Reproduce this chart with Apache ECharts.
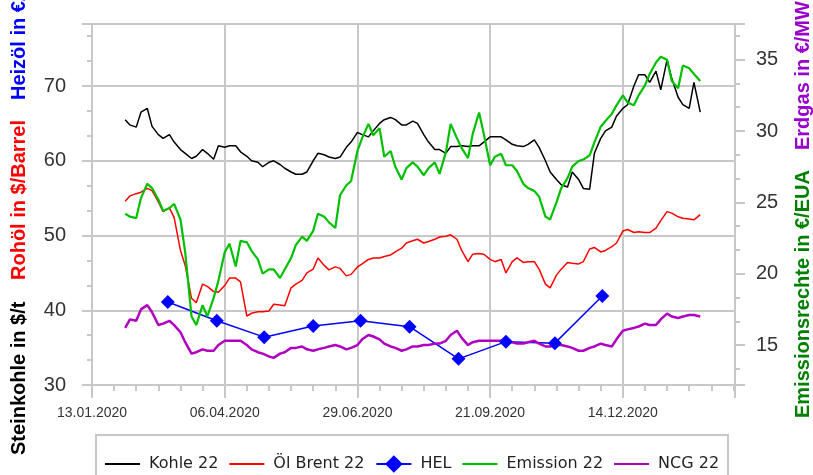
<!DOCTYPE html>
<html><head><meta charset="utf-8">
<script src="https://cdn.jsdelivr.net/npm/echarts@6/dist/echarts.min.js"></script>
<style>html,body{margin:0;padding:0;background:#fff}#c{width:813px;height:475px}</style>
</head><body><div id="c"></div>
<script>
const dates = [
'03.02.2020','06.02.2020','10.02.2020','13.02.2020','17.02.2020','20.02.2020','24.02.2020','27.02.2020',
'02.03.2020','05.03.2020','09.03.2020','12.03.2020','16.03.2020','19.03.2020','23.03.2020','26.03.2020',
'30.03.2020','02.04.2020','06.04.2020','09.04.2020','13.04.2020','16.04.2020','20.04.2020','23.04.2020',
'27.04.2020','30.04.2020','04.05.2020','07.05.2020','11.05.2020','14.05.2020','18.05.2020','21.05.2020',
'25.05.2020','28.05.2020','01.06.2020','04.06.2020','08.06.2020','11.06.2020','15.06.2020','18.06.2020',
'22.06.2020','25.06.2020','29.06.2020','02.07.2020','06.07.2020','09.07.2020','13.07.2020','16.07.2020',
'20.07.2020','23.07.2020','27.07.2020','30.07.2020','03.08.2020','06.08.2020','10.08.2020','13.08.2020',
'17.08.2020','20.08.2020','24.08.2020','27.08.2020','31.08.2020','03.09.2020','07.09.2020','10.09.2020',
'14.09.2020','17.09.2020','21.09.2020','24.09.2020','28.09.2020','01.10.2020','05.10.2020','08.10.2020',
'12.10.2020','15.10.2020','19.10.2020','22.10.2020','26.10.2020','29.10.2020','02.11.2020','05.11.2020',
'09.11.2020','12.11.2020','16.11.2020','19.11.2020','23.11.2020','26.11.2020','30.11.2020','03.12.2020',
'07.12.2020','10.12.2020','14.12.2020','17.12.2020','21.12.2020','24.12.2020','28.12.2020','31.12.2020',
'04.01.2021','07.01.2021','11.01.2021','14.01.2021','18.01.2021','21.01.2021','25.01.2021','28.01.2021',
'01.02.2021'];
const kohle = [
65.5,64.8,64.5,66.5,67.0,64.6,63.5,63.0, 63.5,62.5,61.5,61.0,60.3,60.6,61.5,61.0,
60.2,62.0,61.8,62.0,62.0,61.2,60.6,60.0, 59.8,59.2,59.8,60.0,59.5,59.0,58.5,58.2,
58.2,58.5,60.0,61.0,60.8,60.5,60.3,60.5, 61.8,62.5,63.8,63.5,63.2,64.0,65.0,65.5,
65.8,65.5,64.8,64.8,65.3,65.0,63.5,62.5, 61.5,61.5,61.0,61.9,61.9,62.0,61.9,62.0,
62.0,62.5,63.2,63.2,63.2,62.8,62.2,62.0, 61.9,62.2,62.8,61.8,60.0,58.5,57.5,56.8,
56.5,58.5,57.5,56.3,56.2,61.0,63.0,64.0, 64.5,66.0,67.0,67.5,70.0,71.5,71.5,70.5,
72.0,69.5,73.5,71.0,68.5,67.5,67.0,70.5, 66.5];
const brent = [
54.6,55.3,55.6,55.8,56.3,56.0,54.5,53.2, 53.7,52.4,48.0,46.0,41.6,41.0,43.5,43.2,
42.5,42.4,43.3,44.3,44.3,43.8,39.2,39.6, 39.8,39.8,39.9,40.8,40.7,40.6,43.0,43.5,
44.0,45.0,45.5,47.0,46.0,45.4,45.8,45.6, 44.6,44.8,45.8,46.2,46.8,47.0,47.0,47.2,
47.4,47.8,48.3,49.0,49.3,49.5,49.0,49.2, 49.5,49.8,49.9,50.1,49.5,48.0,46.5,47.5,
47.6,47.5,46.8,46.5,46.8,45.0,46.5,47.0, 46.4,46.5,46.5,45.5,43.5,43.0,44.7,45.5,
46.4,46.3,46.2,46.5,48.2,48.4,47.8,48.0, 48.5,49.0,50.6,50.8,50.4,50.5,50.4,50.4,
51.0,52.0,53.2,53.0,52.5,52.3,52.2,52.1, 52.8];
const emission = [
24.2,24.0,23.9,25.3,26.3,26.0,25.2,24.4, 24.6,24.9,23.8,21.5,17.0,16.4,17.8,17.0,
18.3,19.5,21.5,22.1,20.5,22.3,22.2,21.6, 21.0,20.0,20.3,20.3,19.7,20.3,21.1,22.0,
22.6,22.3,23.0,24.2,24.0,23.6,23.2,25.5, 26.2,26.5,28.6,29.5,30.5,29.7,30.2,28.2,
28.6,27.5,26.6,27.4,27.8,27.5,26.9,27.4, 27.8,27.0,28.5,30.5,29.5,28.8,28.1,29.8,
31.3,29.8,27.6,28.2,28.4,27.6,27.6,27.2, 26.3,26.0,25.8,25.4,24.0,23.8,25.0,26.0,
26.7,27.5,27.9,28.0,28.3,29.2,30.3,30.7, 31.2,31.8,32.5,32.0,31.8,32.5,33.2,34.0,
34.8,35.2,35.0,33.5,33.0,34.6,34.4,34.0, 33.5];
const ncg = [
16.2,16.8,16.7,17.5,17.8,17.3,16.4,16.5, 16.7,16.4,15.9,15.2,14.4,14.5,14.7,14.6,
14.6,15.0,15.3,15.3,15.3,15.3,15.0,14.7, 14.5,14.4,14.2,14.1,14.4,14.5,14.8,14.8,
14.9,14.7,14.6,14.7,14.8,14.9,15.0,14.9, 14.7,14.8,15.0,15.4,15.7,15.6,15.4,15.1,
14.9,14.8,14.6,14.7,14.9,14.9,15.0,15.0, 15.1,15.1,15.3,15.7,16.0,15.5,15.0,15.2,
15.3,15.3,15.3,15.3,15.3,15.2,15.2,15.1, 15.1,15.2,15.3,15.1,14.9,14.9,15.0,15.0,
14.9,14.8,14.6,14.6,14.8,14.9,15.1,15.0, 14.9,15.4,16.0,16.1,16.2,16.3,16.5,16.4,
16.4,16.8,17.2,17.0,16.9,17.0,17.1,17.1, 17.0];
const helDates = ['01.03.2020','01.04.2020','01.05.2020','01.06.2020','01.07.2020','01.08.2020','01.09.2020','01.10.2020','01.11.2020','01.12.2020'];
const hel = [41.1,38.6,36.4,37.9,38.6,37.8,33.5,35.8,35.6,41.9];
const xTickLabels = ['13.01.2020','06.04.2020','29.06.2020','21.09.2020','14.12.2020'];
const leftTicks = [30,40,50,60,70];
const rightTicks = [15,20,25,30,35];

const BASE = Date.UTC(2020,0,13);
function dayOf(s){const p=s.split('.');return Math.round((Date.UTC(+p[2],+p[1]-1,+p[0])-BASE)/86400000);}
function fmt(d){const t=new Date(BASE+d*86400000);return String(t.getUTCDate()).padStart(2,'0')+'.'+String(t.getUTCMonth()+1).padStart(2,'0')+'.'+t.getUTCFullYear();}
const xTickDays = xTickLabels.map(dayOf);

const GREY = '#c8c8c8';
const FONT = 'Liberation Sans';
const LINE_ICON = 'path://M0,0L0.01,0L0.01,0.01ZM0,10L35,10L35,12L0,12ZM35,22L34.99,22L34.99,21.99Z';
const chart = echarts.init(document.getElementById('c'), null, {renderer:'canvas'});
const axisCommon = {
  axisLine:{show:true,lineStyle:{color:GREY,width:2}},
  axisTick:{show:true,length:10,lineStyle:{color:GREY,width:2}},
  minorTick:{show:true,splitNumber:3,length:5,lineStyle:{color:GREY,width:2}}
};
const nameFont = 'bold 20px "Liberation Sans"';
chart.setOption({
  animation:false,
  backgroundColor:'#fff',
  grid:{left:92,right:78,top:24,bottom:90,show:true,borderColor:GREY,borderWidth:2,containLabel:false},
  xAxis:Object.assign({},axisCommon,{
    type:'value',min:0,max:407,interval:84,
    axisTick:{show:true,length:13,lineStyle:{color:GREY,width:2}},
    minorTick:{show:true,splitNumber:6,length:6,lineStyle:{color:GREY,width:2}},
    splitLine:{show:true,lineStyle:{color:GREY,width:2}},
    axisLabel:{margin:21,fontSize:14,color:'#333',fontFamily:FONT,
      formatter:v=>xTickDays.indexOf(Math.round(v))>=0?fmt(Math.round(v)):''}
  }),
  yAxis:[
    Object.assign({},axisCommon,{type:'value',position:'left',min:30,max:78.3,interval:10,
      splitLine:{show:true,lineStyle:{color:GREY,width:2}},
      axisLabel:{margin:26,fontSize:20,color:'#333',fontFamily:FONT,
        formatter:v=>leftTicks.indexOf(Math.round(v*10)/10)>=0?String(v):''}}),
    Object.assign({},axisCommon,{type:'value',position:'right',min:12.2,max:37.5,splitNumber:5,
      splitLine:{show:false},
      axisLabel:{margin:21,fontSize:20,color:'#333',fontFamily:FONT,
        formatter:v=>rightTicks.indexOf(Math.round(v*10)/10)>=0?String(v):''}})
  ],
  legend:{left:100,top:448,itemWidth:35,itemHeight:22,itemGap:11,
    textStyle:{fontSize:16,color:'#222',fontFamily:'DejaVu Sans',padding:[0,0,0,4]},
    data:[
      {name:'Kohle 22',icon:LINE_ICON},
      {name:'Öl Brent 22',icon:LINE_ICON},
      {name:'HEL'},
      {name:'Emission 22',icon:LINE_ICON},
      {name:'NCG 22',icon:LINE_ICON}
    ]},
  graphic:[
    {type:'rect',shape:{x:96,y:435,width:632,height:60},style:{fill:'none',stroke:GREY,lineWidth:2},silent:true},
    {type:'text',x:19,y:455,rotation:Math.PI/2,style:{text:'Steinkohle in $/t',fill:'#000',font:nameFont,textAlign:'left',textVerticalAlign:'middle'}},
    {type:'text',x:19,y:280,rotation:Math.PI/2,style:{text:'Rohöl in $/Barrel',fill:'#ff0000',font:nameFont,textAlign:'left',textVerticalAlign:'middle'}},
    {type:'text',x:19,y:100,rotation:Math.PI/2,style:{text:'Heizöl in €/hl',fill:'#0000ff',font:nameFont,textAlign:'left',textVerticalAlign:'middle'}},
    {type:'text',x:803,y:418,rotation:Math.PI/2,style:{text:'Emissionsrechte in €/EUA',fill:'#008000',font:nameFont,textAlign:'left',textVerticalAlign:'middle'}},
    {type:'text',x:803,y:150,rotation:Math.PI/2,style:{text:'Erdgas in €/MWh',fill:'#9900cc',font:nameFont,textAlign:'left',textVerticalAlign:'middle'}}
  ],
  series:[
    {name:'Kohle 22',type:'line',yAxisIndex:0,symbol:'none',data:dates.map((d,i)=>[dayOf(d),kohle[i]]),lineStyle:{color:'#000',width:1.5},itemStyle:{color:'#000'}},
    {name:'Öl Brent 22',type:'line',yAxisIndex:0,symbol:'none',data:dates.map((d,i)=>[dayOf(d),brent[i]]),lineStyle:{color:'#ff0000',width:1.5},itemStyle:{color:'#ff0000'}},
    {name:'HEL',type:'line',yAxisIndex:0,symbol:'diamond',symbolSize:14,data:helDates.map((d,i)=>[dayOf(d),hel[i]]),lineStyle:{color:'#0000ff',width:1.5},itemStyle:{color:'#0000ff'}},
    {name:'Emission 22',type:'line',yAxisIndex:1,symbol:'none',data:dates.map((d,i)=>[dayOf(d),emission[i]]),lineStyle:{color:'#00c000',width:2.2},itemStyle:{color:'#00c000'}},
    {name:'NCG 22',type:'line',yAxisIndex:1,symbol:'none',data:dates.map((d,i)=>[dayOf(d),ncg[i]]),lineStyle:{color:'#b000c0',width:2.5},itemStyle:{color:'#b000c0'}}
  ]
});
</script></body></html>
